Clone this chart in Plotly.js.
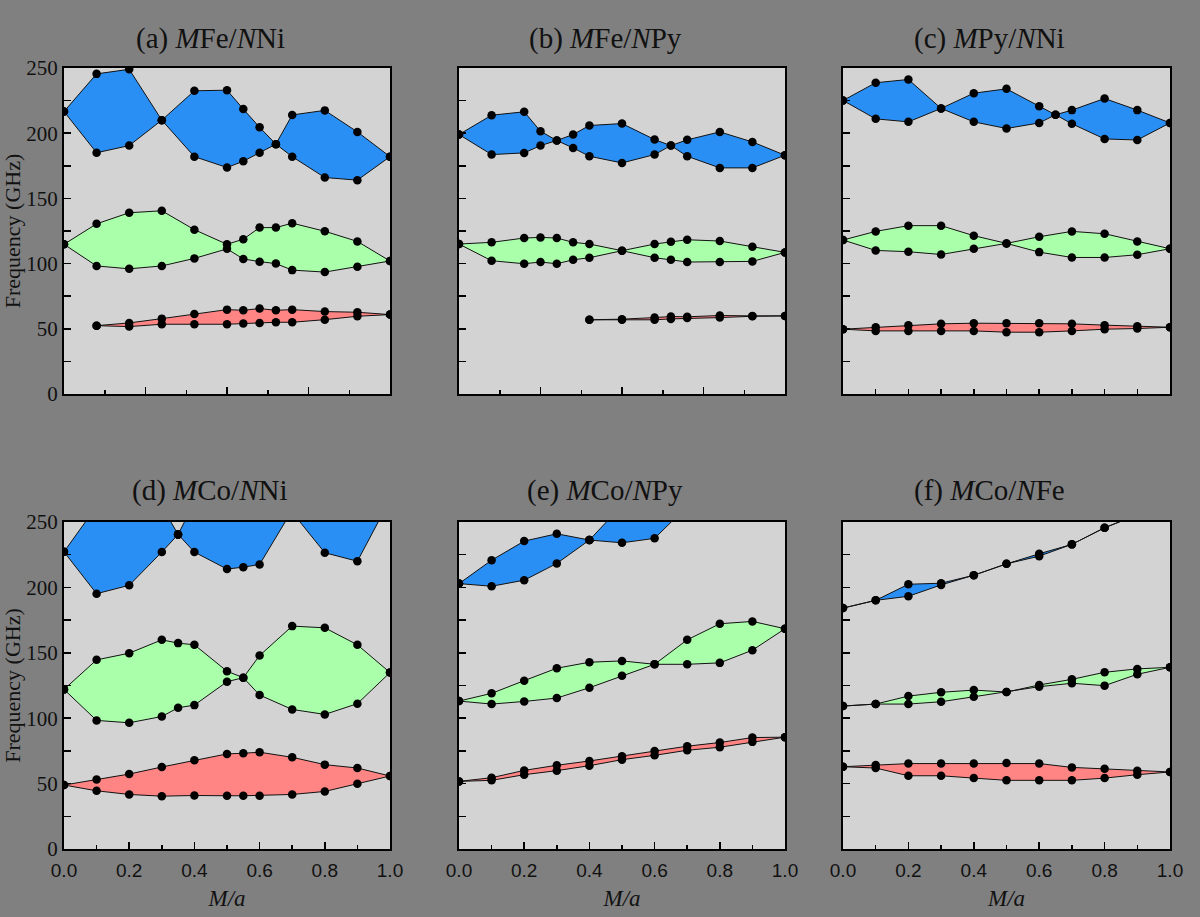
<!DOCTYPE html>
<html>
<head>
<meta charset="utf-8">
<script src="https://cdn.plot.ly/plotly-3.0.1.min.js"></script>
<style>html,body{margin:0;padding:0;background:#808080;}#chart{width:1200px;height:917px;}</style>
</head>
<body>
<div id="chart"></div>
<script>
// ---------- Panel titles ----------
const panelTitles = [
  "(a) <i>M</i>Fe/<i>N</i>Ni", "(b) <i>M</i>Fe/<i>N</i>Py", "(c) <i>M</i>Py/<i>N</i>Ni",
  "(d) <i>M</i>Co/<i>N</i>Ni", "(e) <i>M</i>Co/<i>N</i>Py", "(f) <i>M</i>Co/<i>N</i>Fe"
];
const yTitle = "Frequency (GHz)";
const xTitle = "<i>M/a</i>";

// ---------- (a) MFe/NNi ----------
const a_blue_x  = [0, 0.1, 0.2, 0.3, 0.4, 0.5, 0.55, 0.6, 0.65, 0.7, 0.8, 0.9, 1.0];
const a_blue_up = [216.6, 245.5, 249, 210, 232.5, 233, 218.5, 204.5, 191.6, 214, 217.5, 201, 182];
const a_blue_lo = [216.6, 185, 190.5, 210, 182, 173.7, 178.5, 185, 191.6, 182, 166, 164, 182];
const a_green_x  = [0, 0.1, 0.2, 0.3, 0.4, 0.5, 0.55, 0.6, 0.65, 0.7, 0.8, 0.9, 1.0];
const a_green_up = [114.8, 130.5, 139, 140.5, 126, 114.8, 118.7, 127.6, 127.6, 131, 124.8, 117, 102];
const a_green_lo = [114.8, 98.2, 96, 98.2, 104, 111.3, 103.6, 101.5, 100, 95, 93.5, 97.5, 102];
const a_red_x  = [0.1, 0.2, 0.3, 0.4, 0.5, 0.55, 0.6, 0.65, 0.7, 0.8, 0.9, 1.0];
const a_red_up = [52.4, 54.5, 57.8, 61.4, 64.7, 64.2, 65.5, 64.2, 64.7, 63.2, 62.7, 60.9];
const a_red_lo = [52.4, 51.7, 53.5, 53.5, 53.5, 54, 54.5, 55, 55, 57, 59.6, 60.9];

// ---------- (b) MFe/NPy ----------
const b_blue_x  = [0, 0.1, 0.2, 0.25, 0.3, 0.35, 0.4, 0.5, 0.6, 0.65, 0.7, 0.8, 0.9, 1.0];
const b_blue_up = [199, 213.8, 216.4, 201.5, 194.4, 199, 205.9, 207.4, 195.1, 190.5, 194.9, 201, 193.3, 183.1];
const b_blue_lo = [199, 183.6, 184.9, 190.5, 194.4, 188.7, 182.3, 177.2, 183.6, 190.5, 182.3, 173.4, 173.4, 183.1];
const b_green_x  = [0, 0.1, 0.2, 0.25, 0.3, 0.35, 0.4, 0.5, 0.6, 0.65, 0.7, 0.8, 0.9, 1.0];
const b_green_up = [115, 116.3, 119.6, 120.1, 119.6, 116.3, 115, 109.9, 115, 116.8, 118.3, 117.3, 112.9, 108.6];
const b_green_lo = [115, 102.2, 99.9, 101.2, 99.9, 102.9, 104.5, 109.9, 104.5, 102.9, 101.2, 101.2, 101.7, 108.6];
const b_red_x  = [0.4, 0.5, 0.6, 0.65, 0.7, 0.8, 0.9, 1.0];
const b_red_up = [56.9, 57.4, 58.6, 59.4, 59.2, 60.2, 59.9, 59.9];
const b_red_lo = [56.9, 57.0, 56.9, 57.6, 58.2, 58.6, 59.6, 59.9];

// ---------- (c) MPy/NNi ----------
const c_blue_x  = [0, 0.1, 0.2, 0.3, 0.4, 0.5, 0.6, 0.65, 0.7, 0.8, 0.9, 1.0];
const c_blue_up = [225.1, 238.7, 241.2, 219, 230.7, 234, 220.7, 214.1, 217.7, 226.6, 217.7, 207.9];
const c_blue_lo = [225.1, 211, 208.7, 219, 208.7, 203.6, 207.9, 214.1, 207.2, 195.6, 194.8, 207.9];
const c_green_x  = [0, 0.1, 0.2, 0.3, 0.4, 0.5, 0.6, 0.7, 0.8, 0.9, 1.0];
const c_green_up = [118.1, 124.7, 129.1, 129.1, 121.4, 115.5, 120.6, 124.7, 122.9, 117, 111.4];
const c_green_lo = [118.1, 110.1, 109.1, 107, 111.4, 115.5, 108.8, 104.7, 104.7, 106.8, 111.4];
const c_red_x  = [0, 0.1, 0.2, 0.3, 0.4, 0.5, 0.6, 0.7, 0.8, 0.9, 1.0];
const c_red_up = [49.7, 51.2, 52.8, 53.8, 54.3, 54.3, 54.3, 53.8, 52.8, 52, 51.2];
const c_red_lo = [49.7, 48.4, 48.4, 48.4, 48.4, 47.4, 47.4, 48.4, 49.7, 50.2, 51.2];

// ---------- (d) MCo/NNi ----------
const d_blue1_x  = [0, 0.1, 0.2, 0.3, 0.35];
const d_blue1_up = [227.2, 262, 272, 262, 240.5];
const d_blue1_lo = [227.2, 195.2, 201.6, 227, 240.5];
const d_blue2_x  = [0.35, 0.4, 0.5, 0.55, 0.6, 0.7];
const d_blue2_up = [240.5, 265, 272, 272, 272, 259];
const d_blue2_lo = [240.5, 227, 214, 215.5, 217.5, 259];
const d_blue3_x  = [0.7, 0.8, 0.9, 1.0];
const d_blue3_up = [257.4, 272, 280, 267];
const d_blue3_lo = [257.4, 226.5, 220, 267];
const d_green_x  = [0, 0.1, 0.2, 0.3, 0.35, 0.4, 0.5, 0.55, 0.6, 0.7, 0.8, 0.9, 1.0];
const d_green_up = [122, 144.6, 149.7, 159.9, 157.4, 156.1, 135.9, 131, 147.9, 170.4, 169.1, 156.1, 134.9];
const d_green_lo = [122, 98.3, 96.5, 101.3, 108, 110, 127.9, 131, 117.7, 106.7, 102.9, 111.1, 134.9];
const d_red_x  = [0, 0.1, 0.2, 0.3, 0.4, 0.5, 0.55, 0.6, 0.7, 0.8, 0.9, 1.0];
const d_red_up = [48.9, 53.2, 57.3, 62.7, 67.8, 72.7, 73.2, 74, 70.1, 64.5, 61.9, 55.8];
const d_red_lo = [48.9, 44.5, 41.7, 40.4, 40.9, 40.7, 40.7, 40.7, 41.7, 44, 49.9, 55.8];

// ---------- (e) MCo/NPy ----------
const e_blue1_x  = [0, 0.1, 0.2, 0.3, 0.4];
const e_blue1_up = [202.9, 220.8, 235.4, 241, 236.2];
const e_blue1_lo = [202.9, 200.9, 205.5, 218.3, 236.2];
const e_blue2_x  = [0.4, 0.5, 0.6, 0.7];
const e_blue2_up = [236.2, 262.7, 270, 262];
const e_blue2_lo = [236.2, 234.1, 237.5, 262];
const e_green_x  = [0, 0.1, 0.2, 0.3, 0.4, 0.5, 0.6, 0.7, 0.8, 0.9, 1.0];
const e_green_up = [113.1, 119, 128.7, 138.2, 142.8, 143.8, 141.2, 159.9, 172.2, 174, 168.4];
const e_green_lo = [113.1, 110.8, 112.8, 115.4, 123.3, 132.5, 141.2, 141.2, 142.3, 152, 168.4];
const e_red_x  = [0, 0.1, 0.2, 0.3, 0.4, 0.5, 0.6, 0.7, 0.8, 0.9, 1.0];
const e_red_up = [51.7, 54.5, 60.1, 64, 67.3, 70.9, 75, 78.6, 81.4, 85.2, 85.5];
const e_red_lo = [51.7, 52.5, 56.8, 59.9, 63.7, 68.3, 71.6, 75.5, 77.8, 81.9, 85.5];

// ---------- (f) MCo/NFe ----------
const f_blue_x  = [0, 0.1, 0.2, 0.3, 0.4, 0.5, 0.6, 0.7, 0.8, 0.9];
const f_blue_up = [184.2, 190.1, 202.4, 203.2, 209.3, 218, 225.7, 232.9, 245.6, 255.5];
const f_blue_lo = [184.2, 190.1, 193.2, 201.9, 209.3, 218, 223.9, 232.9, 245.6, 255.5];
const f_green_x  = [0, 0.1, 0.2, 0.3, 0.4, 0.5, 0.6, 0.7, 0.8, 0.9, 1.0];
const f_green_up = [109.3, 110.8, 116.9, 119.8, 121.5, 120, 125.4, 129.7, 135.1, 137.7, 138.9];
const f_green_lo = [109.3, 110.8, 110.8, 112.6, 116.4, 120, 124.1, 126.7, 124.9, 133.6, 138.9];
const f_red_x  = [0, 0.1, 0.2, 0.3, 0.4, 0.5, 0.6, 0.7, 0.8, 0.9, 1.0];
const f_red_up = [62.9, 64.2, 65.3, 65.3, 65.3, 65.8, 65.3, 62.4, 61.4, 59.9, 58.9];
const f_red_lo = [62.9, 61.9, 56, 56, 54.2, 52.5, 52.5, 52.5, 54.2, 56.8, 58.9];

// ---------- styling ----------
const BLUE = "#2a8ff5", GREEN = "#aaffaa", RED = "#ff8484";
const SERIF = "Liberation Serif, Times New Roman, serif";
const SANS = "Liberation Sans, Arial, sans-serif";

function band(xs, up, lo, color, ax) {
  const x = xs.concat(xs.slice().reverse());
  const y = up.concat(lo.slice().reverse());
  return {
    x: x, y: y, type: "scatter", mode: "lines+markers",
    fill: "toself", fillcolor: color,
    line: {color: "#111", width: 1},
    marker: {color: "#000", size: 8.5},
    xaxis: "x" + (ax === 1 ? "" : ax), yaxis: "y" + (ax === 1 ? "" : ax),
    hoverinfo: "x+y", showlegend: false
  };
}

const traces = [
  band(a_blue_x, a_blue_up, a_blue_lo, BLUE, 1),
  band(a_green_x, a_green_up, a_green_lo, GREEN, 1),
  band(a_red_x, a_red_up, a_red_lo, RED, 1),
  band(b_blue_x, b_blue_up, b_blue_lo, BLUE, 2),
  band(b_green_x, b_green_up, b_green_lo, GREEN, 2),
  band(b_red_x, b_red_up, b_red_lo, RED, 2),
  band(c_blue_x, c_blue_up, c_blue_lo, BLUE, 3),
  band(c_green_x, c_green_up, c_green_lo, GREEN, 3),
  band(c_red_x, c_red_up, c_red_lo, RED, 3),
  band(d_blue1_x, d_blue1_up, d_blue1_lo, BLUE, 4),
  band(d_blue2_x, d_blue2_up, d_blue2_lo, BLUE, 4),
  band(d_blue3_x, d_blue3_up, d_blue3_lo, BLUE, 4),
  band(d_green_x, d_green_up, d_green_lo, GREEN, 4),
  band(d_red_x, d_red_up, d_red_lo, RED, 4),
  band(e_blue1_x, e_blue1_up, e_blue1_lo, BLUE, 5),
  band(e_blue2_x, e_blue2_up, e_blue2_lo, BLUE, 5),
  band(e_green_x, e_green_up, e_green_lo, GREEN, 5),
  band(e_red_x, e_red_up, e_red_lo, RED, 5),
  band(f_blue_x, f_blue_up, f_blue_lo, BLUE, 6),
  band(f_green_x, f_green_up, f_green_lo, GREEN, 6),
  band(f_red_x, f_red_up, f_red_lo, RED, 6)
];

const W = 1200, H = 917;
const xDom = [[64 / W, 390 / W], [459 / W, 785 / W], [843 / W, 1170 / W]];
const yDom = [[1 - 394 / H, 1 - 68 / H], [1 - 849 / H, 1 - 522 / H]];

const layout = {
  width: W, height: H,
  margin: {l: 0, r: 0, t: 0, b: 0},
  paper_bgcolor: "#808080",
  plot_bgcolor: "#d3d3d3",
  showlegend: false,
  annotations: []
};

for (let i = 0; i < 6; i++) {
  const row = i < 3 ? 0 : 1, col = i % 3;
  const n = i === 0 ? "" : String(i + 1);
  const bottom = row === 1;
  const xa = {
    domain: xDom[col], range: [0, 1], anchor: "y" + n,
    showline: true, linecolor: "#000", linewidth: 2, mirror: true,
    showgrid: false, zeroline: false,
    ticks: "inside", tickcolor: "#000", tickwidth: 1.5,
    fixedrange: true
  };
  if (bottom) {
    Object.assign(xa, {
      dtick: 0.2, tick0: 0, ticklen: 7, tickformat: ".1f",
      showticklabels: true, ticklabelstandoff: 3,
      tickfont: {family: SANS, size: 19, color: "#111"},
      minor: {dtick: 0.1, ticks: "inside", ticklen: 4, tickcolor: "#000", tickwidth: 1.5},
      title: {text: xTitle, font: {family: SERIF, size: 23, color: "#111"}, standoff: 10}
    });
  } else if (col === 2) {
    Object.assign(xa, {dtick: 0.1, tick0: 0, ticklen: 5, showticklabels: false});
  } else {
    Object.assign(xa, {
      dtick: 0.25, tick0: 0, ticklen: 7, showticklabels: false,
      minor: {dtick: 0.125, ticks: "inside", ticklen: 4, tickcolor: "#000", tickwidth: 1.5}
    });
  }
  const ya = {
    domain: yDom[row], range: [0, 250], anchor: "x" + n,
    showline: true, linecolor: "#000", linewidth: 2, mirror: true,
    showgrid: false, zeroline: false,
    ticks: "inside", tickcolor: "#000", tickwidth: 1.5, ticklen: 7,
    dtick: 50, tick0: 0,
    minor: {dtick: 25, ticks: "inside", ticklen: 7, tickcolor: "#000", tickwidth: 1.5},
    showticklabels: col === 0,
    tickfont: {family: SERIF, size: 21, color: "#111"},
    fixedrange: true
  };
  if (col === 0) {
    ya.title = {text: yTitle, font: {family: SERIF, size: 22, color: "#111"}, standoff: 10};
  }
  layout["xaxis" + n] = xa;
  layout["yaxis" + n] = ya;

  const cx = (xDom[col][0] + xDom[col][1]) / 2 - 17 / W;
  const ty = row === 0 ? 1 - 38 / H : 1 - 490 / H;
  layout.annotations.push({
    text: panelTitles[i], xref: "paper", yref: "paper",
    x: cx, y: ty, xanchor: "center", yanchor: "middle", showarrow: false,
    font: {family: SERIF, size: 29, color: "#111"}
  });
}

Plotly.newPlot("chart", traces, layout, {displayModeBar: false, staticPlot: true});
</script>
</body>
</html>
